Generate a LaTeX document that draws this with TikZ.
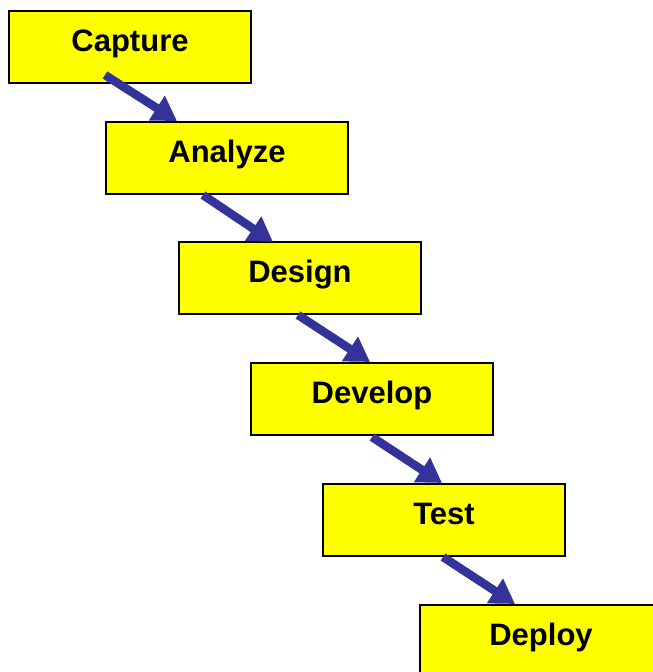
\documentclass[tikz,border=0pt]{standalone}
\usepackage{fontspec}
\setmainfont{Liberation Sans}
\usetikzlibrary{arrows.meta,calc}
\definecolor{arrowblue}{RGB}{51,51,153}
\definecolor{boxyellow}{RGB}{255,255,0}
\tikzset{
  stagebox/.style={rectangle, draw=black, line width=2pt, fill=boxyellow,
    minimum width=242pt, minimum height=72pt, inner sep=0pt, anchor=north west,
    text height=22pt, text depth=14pt,
    font=\fontsize{31}{37}\selectfont\bfseries},
  flowarrow/.style={draw=arrowblue, line width=8.5pt,
    -{Triangle[width=28pt,length=24pt]}, fill=arrowblue}
}
\begin{document}
\begin{tikzpicture}[x=1pt,y=-1pt]
\useasboundingbox (0,0) rectangle (653,672);
\clip (0,0) rectangle (653,672);
\fill[white] (0,0) rectangle (653,672);
% shadows
\foreach \x/\y in {8/10,105/121,178/241,250/362,322/483,419/604}{
  \fill[black] (\x+1.5,\y+1.5) rectangle (\x+243.5,\y+73.5);
}
\node[stagebox] (capture) at (8,10) {Capture};
\node[stagebox] (analyze) at (105,121) {Analyze};
\node[stagebox] (design) at (178,241) {Design};
\node[stagebox] (develop) at (250,362) {Develop};
\node[stagebox] (test) at (322,483) {Test};
\node[stagebox] (deploy) at (419,604) {Deploy};
\draw[flowarrow] ($(capture.south west)+(97,-9)$) -- ($(analyze.north west)+(72,0)$);
\draw[flowarrow] ($(analyze.south west)+(98,0)$) -- ($(design.north west)+(95,1)$);
\draw[flowarrow] ($(design.south west)+(120,0)$) -- ($(develop.north west)+(120,0)$);
\draw[flowarrow] ($(develop.south west)+(122,1)$) -- ($(test.north west)+(120,0)$);
\draw[flowarrow] ($(test.south west)+(121,0)$) -- ($(deploy.north west)+(96,0)$);
\end{tikzpicture}
\end{document}
